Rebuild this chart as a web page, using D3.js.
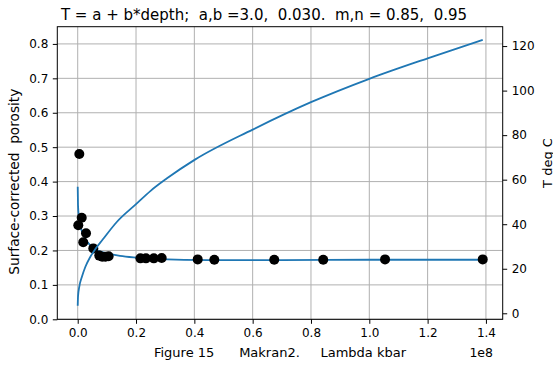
<!DOCTYPE html>
<html>
<head>
<meta charset="utf-8">
<script src="https://cdn.jsdelivr.net/npm/d3@7"></script>
<style>
  body { margin: 0; background: #fff; }
  text { font-family: "DejaVu Sans", sans-serif; fill: #000; }
</style>
</head>
<body>
<div id="chart"></div>
<script>
// observed porosity vs lambda (lambda in units of 1e8 kbar)
var obsLambda = [0.0055, 0.0137, 0.002, 0.0285, 0.019, 0.0535, 0.074, 0.084, 0.095, 0.106,
                 0.215, 0.234, 0.261, 0.288, 0.4115, 0.4685, 0.674, 0.842, 1.054, 1.389]
var obsPorosity = [0.480, 0.295, 0.273, 0.250, 0.224, 0.206, 0.185, 0.182, 0.182, 0.183,
                   0.177, 0.177, 0.177, 0.178, 0.174, 0.173, 0.173, 0.173, 0.174, 0.174]

// fitted porosity curve
var fitLambda = [0, 0.001, 0.0045, 0.011, 0.025, 0.042, 0.065, 0.1, 0.145, 0.2, 0.28, 0.45, 0.7, 1.0, 1.389]
var fitPorosity = [0.385, 0.332, 0.294, 0.265, 0.235, 0.216, 0.201, 0.192, 0.184, 0.179, 0.175, 0.172, 0.172, 0.173, 0.173]

// temperature curve (right axis)
var tLambda = [0, 0.001, 0.0055, 0.0147, 0.026, 0.043, 0.06, 0.085, 0.134, 0.2, 0.25, 0.305, 0.402, 0.6, 0.8, 1.0, 1.2, 1.389]
var tDegC = [3.4, 7.5, 12.0, 16.5, 20.8, 25.3, 28.8, 33.0, 41.0, 49.0, 55.0, 60.5, 69.0, 82.5, 94.8, 105.3, 114.5, 122.8]

var xTicks = [0, 0.2, 0.4, 0.6, 0.8, 1.0, 1.2, 1.4]
var yTicks = [0, 0.1, 0.2, 0.3, 0.4, 0.5, 0.6, 0.7, 0.8]
var tTicks = [0, 20, 40, 60, 80, 100, 120]

var title = 'T = a + b*depth;  a,b =3.0,  0.030.  m,n = 0.85,  0.95'
var xLabel = 'Figure 15      Makran2.     Lambda kbar'
var yLabel = 'Surface-corrected  porosity'
var y2Label = 'T deg C'

var W = 553, H = 365
var pL = 57.3, pR = 502.7, pT = 26.7, pB = 319.3
var blue = '#1f77b4'

var svg = d3.select('#chart').append('svg')
  .attr('width', W).attr('height', H)

var x = d3.scaleLinear().domain([-0.07, 1.4575]).range([pL, pR])
var y = d3.scaleLinear().domain([0, 0.85]).range([pB, pT])
var y2 = d3.scaleLinear().domain([-2.7, 128.7]).range([pB, pT])

// grid
var grid = svg.append('g').attr('stroke', '#b0b0b0').attr('stroke-width', 1)
grid.selectAll('.gx').data(xTicks).enter().append('line')
  .attr('x1', d => x(d)).attr('x2', d => x(d)).attr('y1', pT).attr('y2', pB)
grid.selectAll('.gy').data(yTicks).enter().append('line')
  .attr('x1', pL).attr('x2', pR).attr('y1', d => y(d)).attr('y2', d => y(d))

svg.append('clipPath').attr('id', 'clip').append('rect')
  .attr('x', pL).attr('y', pT).attr('width', pR - pL).attr('height', pB - pT)

var plot = svg.append('g').attr('clip-path', 'url(#clip)')

var fitPts = fitLambda.map((l, i) => [l, fitPorosity[i]])
plot.append('path').datum(fitPts)
  .attr('fill', 'none').attr('stroke', blue).attr('stroke-width', 1.8)
  .attr('d', d3.line().x(d => x(d[0])).y(d => y(d[1])).curve(d3.curveMonotoneX))

plot.selectAll('circle').data(obsLambda).enter().append('circle')
  .attr('cx', d => x(d)).attr('cy', (d, i) => y(obsPorosity[i]))
  .attr('r', 5).attr('fill', '#000')

var tPts = tLambda.map((l, i) => [l, tDegC[i]])
plot.append('path').datum(tPts)
  .attr('fill', 'none').attr('stroke', blue).attr('stroke-width', 1.8)
  .attr('d', d3.line().x(d => x(d[0])).y(d => y2(d[1])).curve(d3.curveMonotoneX))

// axes
var fmt1 = d3.format('.1f')
var xAxis = svg.append('g').attr('transform', `translate(0,${pB})`)
  .call(d3.axisBottom(x).tickValues(xTicks).tickFormat(fmt1).tickSize(4.5).tickPadding(4.5))
var yAxis = svg.append('g').attr('transform', `translate(${pL},0)`)
  .call(d3.axisLeft(y).tickValues(yTicks).tickFormat(fmt1).tickSize(4.5).tickPadding(4.5))
var y2Axis = svg.append('g').attr('transform', `translate(${pR},0)`)
  .call(d3.axisRight(y2).tickValues(tTicks).tickFormat(d3.format('d')).tickSize(4.5).tickPadding(4.5))

;[xAxis, yAxis, y2Axis].forEach(a => {
  a.select('.domain').remove()
  a.selectAll('text').attr('font-size', 12).attr('font-family', '"DejaVu Sans", sans-serif')
  a.selectAll('line').attr('stroke', '#000').attr('stroke-width', 1)
})

// frame
svg.append('rect').attr('x', pL).attr('y', pT)
  .attr('width', pR - pL).attr('height', pB - pT)
  .attr('fill', 'none').attr('stroke', '#000').attr('stroke-width', 1)

// labels
svg.append('text').attr('x', 264).attr('y', 19.5).attr('text-anchor', 'middle')
  .attr('font-size', 15).style('white-space', 'pre').text(title)
svg.append('text').attr('x', 280).attr('y', 356.7).attr('text-anchor', 'middle')
  .attr('font-size', 13).style('white-space', 'pre').text(xLabel)
svg.append('text').attr('x', 493).attr('y', 356.7).attr('text-anchor', 'end')
  .attr('font-size', 12.5).text('1e8')
svg.append('text').attr('transform', 'translate(18.5,181.7) rotate(-90)')
  .attr('text-anchor', 'middle').attr('font-size', 13.7).style('white-space', 'pre').text(yLabel)
svg.append('text').attr('transform', 'translate(551.5,163) rotate(-90)')
  .attr('text-anchor', 'middle').attr('font-size', 13).text(y2Label)
</script>
</body>
</html>
